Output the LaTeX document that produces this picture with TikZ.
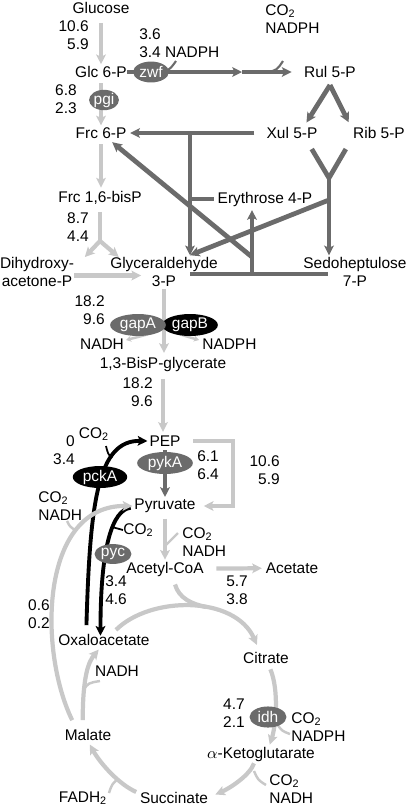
\documentclass[tikz,border=0pt]{standalone}
\usepackage{fontspec}
\setmainfont{Liberation Sans}
\usetikzlibrary{arrows.meta,shapes.geometric}

\definecolor{lightflux}{HTML}{C8C8C8}
\definecolor{darkflux}{HTML}{6B6B6B}

\begin{document}
\begin{tikzpicture}[x=0.02cm,y=-0.02cm,
  font=\fontsize{8.8}{10.2}\selectfont,
  met/.style={inner sep=0pt,align=center},
  flux/.style={inner sep=0pt,align=right,anchor=east},
  cof/.style={inner sep=0pt,align=left,anchor=west},
  enz/.style={ellipse,fill=darkflux,text=white,inner sep=0pt},
  headed/.style={-{Stealth[length=5.5pt,width=5.5pt,inset=1.2pt]}},
  glyc/.style={headed,lightflux,line width=2.4pt},
  ppp/.style={headed,darkflux,line width=2.7pt},
  ana/.style={headed,black,line width=2.2pt},
  sidearm/.style={lightflux,line width=1.4pt}]
\useasboundingbox (0,0) rectangle (408,806);

% metabolites
\node[met] (glc) at (101,8) {Glucose};
\node[met] (g6p) at (101,72) {Glc 6-P};
\node[met] (f6p) at (101,133) {Frc 6-P};
\node[met] (fbp) at (100,198) {Frc 1,6-bisP};
\node[met] (dhap) at (37,272) {Dihydroxy-\\acetone-P};
\node[met] (gap) at (164,272) {Glyceraldehyde\\3-P};
\node[met] (bpg) at (163,364) {1,3-BisP-glycerate};
\node[met] (pep) at (165,441) {PEP};
\node[met] (pyr) at (165,506) {Pyruvate};
\node[met] (accoa) at (165,569) {Acetyl-CoA};
\node[met] (ac) at (292,568) {Acetate};
\node[met] (oaa) at (104,640) {Oxaloacetate};
\node[met] (cit) at (266,658) {Citrate};
\node[met] (akg) at (261,754) {$\alpha$-Ketoglutarate};
\node[met] (suc) at (174,798) {Succinate};
\node[met] (mal) at (88,735) {Malate};
\node[met] (ru5p) at (330,72) {Rul 5-P};
\node[met] (xu5p) at (292,133) {Xul 5-P};
\node[met] (r5p) at (379,133) {Rib 5-P};
\node[met] (e4p) at (265,199) {Erythrose 4-P};
\node[met] (s7p) at (355,272) {Sedoheptulose\\7-P};

% fluxes
\node[flux] (fl1) at (89,35) {10.6\\5.9};
\node[flux] (fl2) at (77,99) {6.8\\2.3};
\node[flux] (fl3) at (89,227) {8.7\\4.4};
\node[flux] (fl4) at (105,310) {18.2\\9.6};
\node[flux] (fl5) at (153,392) {18.2\\9.6};
\node[flux] (fl6) at (75,450) {0\\3.4};
\node[flux,anchor=west] (fl7) at (197,465) {6.1\\6.4};
\node[flux] (fl8) at (280,470) {10.6\\5.9};
\node[flux] (fl9) at (50,614) {0.6\\0.2};
\node[flux,anchor=west] (fl10) at (105,590) {3.4\\4.6};
\node[flux,anchor=west] (fl11) at (226,590) {5.7\\3.8};
\node[flux] (fl12) at (245,713) {4.7\\2.1};

% cofactors
\node[cof] (zwfc) at (139,43) {3.6\\3.4 NADPH};
\node[cof] (gndc) at (265,19) {CO\textsubscript{2}\\NADPH};
\node[met] (gapac) at (102,344) {NADH};
\node[cof] (gapbc) at (202,344) {NADPH};
\node[met] (pckc) at (94,434) {CO\textsubscript{2}};
\node[cof] (maec) at (38,506) {CO\textsubscript{2}\\NADH};
\node[cof] (pdhc) at (182,542) {CO\textsubscript{2}\\NADH};
\node[cof] (pycc) at (123,530) {CO\textsubscript{2}};
\node[met] (mdhc) at (117,671) {NADH};
\node[cof] (idhc) at (291,727) {CO\textsubscript{2}\\NADPH};
\node[cof] (kgdc) at (269,789) {CO\textsubscript{2}\\NADH};
\node[met] (sdhc) at (83,798) {FADH\textsubscript{2}};

% oxidative pentose phosphate pathway
\coordinate (pgl) at (242,72);
\draw[ppp] (g6p) -- (pgl);
\draw[ppp,shorten >=7pt] (pgl) -- (ru5p);
\draw[darkflux,line width=1.2pt] (166,71) .. controls (171,68) .. (176,61);
\draw[darkflux,line width=1.2pt] (268,72) .. controls (277,70) .. (283,61);

% non-oxidative part
\coordinate (epi) at (330,85);
\draw[ppp,shorten >=3pt] (epi) -- ([xshift=-8pt]xu5p.north east);
\draw[ppp,shorten >=3pt] (epi) -- ([xshift=-1pt]r5p.north west);
\draw[ppp,shorten <=6.8pt,shorten >=2pt] (xu5p) -- (f6p);
\coordinate (tk1) at (190,133);
\coordinate (tk2) at (190,199);
\coordinate (gapin) at ([xshift=14.7pt,yshift=1pt]gap.north);
\draw[ppp] (tk1) -- (tk1 |- gapin);
\draw[darkflux,line width=2.7pt,shorten >=2pt] (tk2) -- (e4p);
\coordinate (tal) at (329,178);
\coordinate (tal2) at (329,200);
\draw[darkflux,line width=2.7pt] ([xshift=-3.4pt,yshift=-5.7pt]xu5p.south east) -- (tal)
  -- ([xshift=-4pt,yshift=-5.7pt]r5p.south west);
\draw[ppp,shorten >=1pt] (tal) -- (tal |- s7p.north);
\draw[ppp] (tal2) -- (gapin);
\coordinate (ta0) at (190,274);
\coordinate (ta1) at (252,274);
\coordinate (ta2) at (252,257);
\coordinate (ta3) at (328,274);
\draw[darkflux,line width=2.7pt] (ta0) -- (ta3);
\draw[ppp,shorten >=2pt] (ta1) -- (ta1 |- e4p.south);
\draw[ppp,shorten >=3pt] (ta2) -- (f6p);

% glycolysis
\draw[glyc,shorten <=5pt,shorten >=1pt] (glc) -- (g6p);
\draw[glyc,shorten <=3pt,shorten >=1pt] (g6p) -- (f6p);
\draw[glyc,shorten <=3pt,shorten >=2pt] (f6p) -- (f6p |- fbp.north);
\coordinate (ald) at (100,241);
\draw[lightflux,line width=2.4pt,shorten <=4pt] (fbp) -- (ald);
\draw[glyc] (ald) -- ([xshift=6pt]dhap.north east);
\draw[glyc] (ald) -- ([xshift=5pt]gap.north west);
\draw[glyc] ([yshift=-2pt]dhap.east) -- ([xshift=-13pt,yshift=-2pt]gap.center);
\draw[sidearm,-{Stealth[length=3pt,width=3.5pt]}] (164,326) .. controls (150,334) .. (126,340);
\draw[sidearm,-{Stealth[length=3pt,width=3.5pt]}] (164,326) .. controls (178,334) .. (199,340);
\draw[glyc,shorten <=1pt,shorten >=2pt] (gap) -- (gap |- bpg.north);
\draw[glyc,shorten <=4pt,shorten >=2pt] (bpg) -- (bpg |- pep.north);
\draw[ppp,shorten <=2pt,shorten >=1pt] (pep) -- (pyr);
\draw[glyc] ([xshift=7pt]pep.east) -- ++(40,0) |- ([xshift=4.5pt]pyr.east);
\draw[glyc,shorten <=3pt,shorten >=1pt] (pyr) -- (accoa);
\draw[sidearm] (165,546) .. controls (170,541) .. (178,533);
\draw[glyc,shorten <=7pt,shorten >=2pt] (accoa) -- (ac);

% anaplerosis
\draw[ana] ([xshift=-10pt,yshift=5pt]oaa.north) .. controls (90,500) and (98,440) .. ([xshift=-1pt]pep.west);
\draw[black,line width=1pt] (112,458) .. controls (108,454) .. (106,446);
\draw[ana] ([xshift=-2pt,yshift=-1pt]pyr.west) .. controls +(-18,2) and +(0,-90) .. ([xshift=-2pt,yshift=-1pt]oaa.north);
\draw[black,line width=1pt] (112,527) -- (pycc.west);
\draw[glyc] ([xshift=-9pt,yshift=5pt]mal.north) .. controls (38,650) and (40,505) .. ([xshift=-1pt]pyr.west);
\draw[sidearm] (77,531) .. controls (70,527) .. (67,521);

% TCA cycle
\coordinate (tcajoin) at (206,607);
\draw[glyc] ([xshift=6.8pt,yshift=2.3pt]oaa.north) .. controls +(34,-34) and +(-22,-50) .. ([xshift=8pt,yshift=4pt]cit.north west);
\draw[lightflux,line width=2.4pt] ([xshift=5.7pt,yshift=-4.5pt]accoa.south) .. controls +(4,14) and +(-14,-3) .. (tcajoin);
\draw[glyc] ([xshift=2.5pt,yshift=-3pt]cit.south) .. controls (279,690) and (276,725) .. ([xshift=5pt,yshift=1pt]akg.north);
\draw[sidearm] (277,724) .. controls (282,731) .. (290,734);
\draw[glyc] ([xshift=-4pt,yshift=-1pt]akg.south) .. controls +(-4,12) and +(14,-6) .. ([xshift=4pt,yshift=2pt]suc.east);
\draw[sidearm] (254,771) .. controls (258,780) .. (266,785);
\draw[glyc] ([xshift=-2pt]suc.north west) .. controls +(-18,-8) and +(10,18) .. ([xshift=1pt,yshift=-2pt]mal.south);
\draw[sidearm] (118,779) .. controls (112,784) .. (109,793);
\draw[glyc] ([xshift=-3pt,yshift=5pt]mal.north) .. controls +(0,-45) and +(-10,12) .. ([xshift=-3pt,yshift=-2pt]oaa.south);
\draw[sidearm] (83,691) .. controls (88,683) .. (100,681);

% enzymes
\node[enz,minimum width=20.4pt,minimum height=11.9pt] (zwf) at (151,72) {zwf};
\node[enz,minimum width=17pt,minimum height=11.3pt] (pgi) at (104,100) {pgi};
\node[enz,fill=black,minimum width=31.7pt,minimum height=12.5pt] (gapB) at (190,325) {gapB};
\node[enz,minimum width=31.7pt,minimum height=12.5pt] (gapA) at (138,325) {gapA};
\node[enz,fill=black,minimum width=31pt,minimum height=12.5pt] (pckA) at (100,477) {pckA};
\node[enz,minimum width=31.7pt,minimum height=12.5pt] (pykA) at (165,463) {pykA};
\node[enz,minimum width=21pt,minimum height=11.3pt] (pyc) at (113,554) {pyc};
\node[enz,minimum width=21pt,minimum height=12pt] (idh) at (268,717) {idh};
\end{tikzpicture}
\end{document}
